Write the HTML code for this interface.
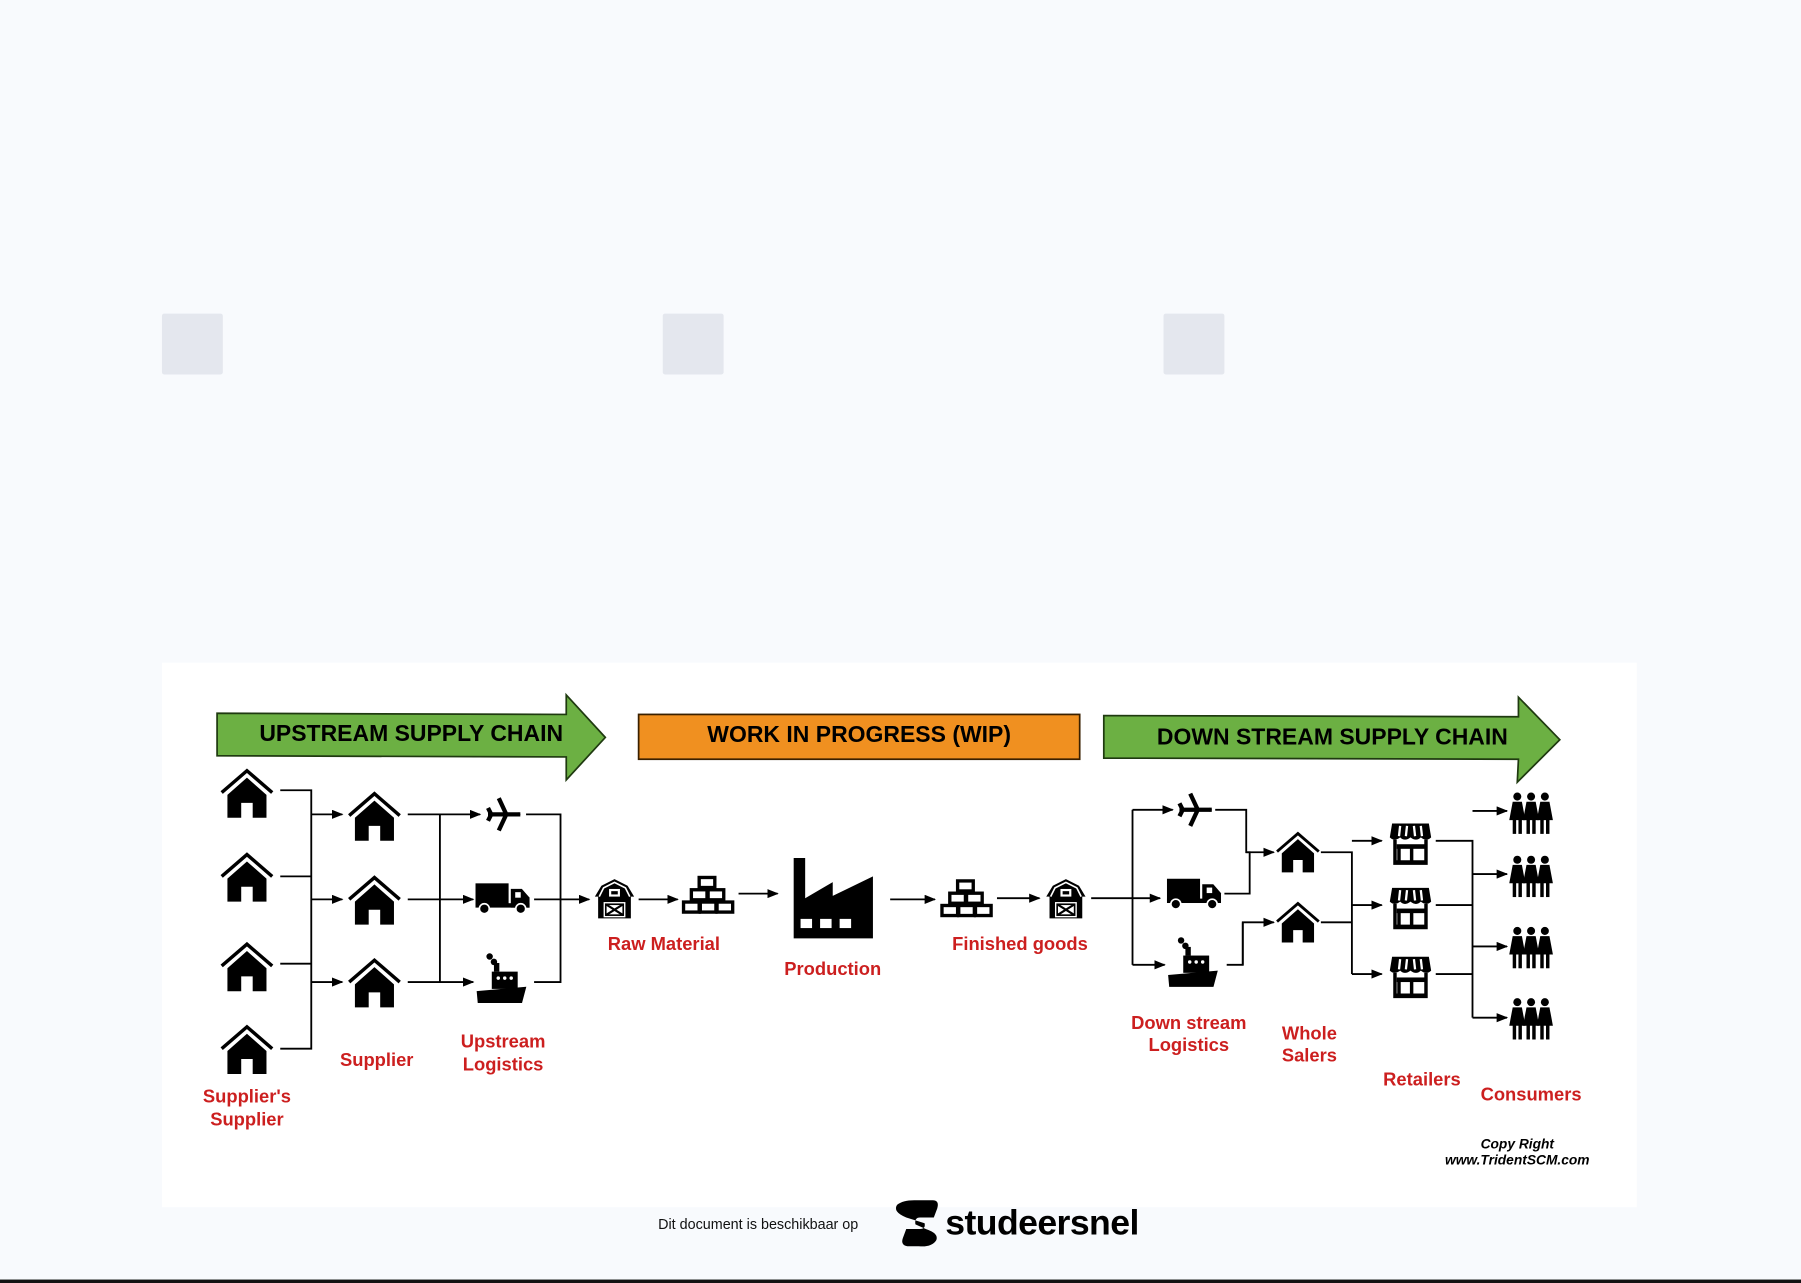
<!DOCTYPE html>
<html><head><meta charset="utf-8"><style>
html,body{margin:0;padding:0;background:#f8fafd;}
svg{display:block}
</style></head><body>
<svg width="1801" height="1283" viewBox="0 0 1568 1117" xmlns="http://www.w3.org/2000/svg" font-family="Liberation Sans, Arial, sans-serif">
<defs>
<marker id="ah" markerWidth="10" markerHeight="8" refX="9" refY="4" orient="auto" markerUnits="userSpaceOnUse"><path d="M0,0 L10,4 L0,8 z" fill="#000"/></marker>
<symbol id="house" viewBox="-24 -24 48 46" overflow="visible">
<polyline points="-22,-3 0,-22 22,-3" fill="none" stroke="#000" stroke-width="3"/>
<path d="M-17,-1 L0,-16 L17,-1 L17,19 L5,19 L5,6 L-5,6 L-5,19 L-17,19 z" fill="#000"/>
</symbol>
<symbol id="truck" viewBox="0 0 50 28" overflow="visible">
<rect x="0" y="0" width="30" height="20" fill="#000"/>
<path d="M32,5 L42,5 L49,13 L49,22 L32,22 z" fill="#000"/>
<rect x="36" y="8" width="5" height="5" fill="#fff"/>
<rect x="0" y="18" width="49" height="4" fill="#000"/>
<circle cx="8" cy="23" r="4.5" fill="#000" stroke="#fff" stroke-width="1.5"/>
<circle cx="41" cy="23" r="4.5" fill="#000" stroke="#fff" stroke-width="1.5"/>
</symbol>
<symbol id="ship" viewBox="0 0 50 50" overflow="visible">
<circle cx="12" cy="4" r="3" fill="#000"/><circle cx="16" cy="9" r="3" fill="#000"/>
<rect x="16" y="10" width="5" height="8" fill="#000"/>
<rect x="14" y="18" width="24" height="16" fill="#000"/>
<circle cx="20" cy="24" r="1.6" fill="#fff"/><circle cx="26" cy="24" r="1.6" fill="#fff"/><circle cx="32" cy="24" r="1.6" fill="#fff"/>
<path d="M0,36 L46,32 L42,47 L1,47 z" fill="#000"/>
</symbol>
<symbol id="barn" viewBox="-20 -18 40 36" overflow="visible">
<path d="M-18,-2 L-12,-12 L0,-18 L12,-12 L18,-2 L15,-2 L15,18 L-15,18 L-15,-2 z" fill="#000"/>
<path d="M-14,-2 L-10,-10 L0,-15 L10,-10 L14,-2" fill="none" stroke="#fff" stroke-width="1.5"/>
<rect x="-5" y="-9" width="10" height="7" fill="#fff"/><rect x="-3" y="-7" width="6" height="3" fill="#000"/>
<rect x="-10" y="3" width="20" height="14" fill="#fff"/>
<path d="M-8,5 L8,15 M8,5 L-8,15" stroke="#000" stroke-width="2"/>
<rect x="-8" y="5" width="16" height="10" fill="none" stroke="#000" stroke-width="1.5"/>
</symbol>
<symbol id="bricks" viewBox="0 0 48 36" overflow="visible">
<g fill="#fff" stroke="#000" stroke-width="3">
<rect x="16" y="2" width="14" height="9"/>
<rect x="9" y="13" width="14" height="9"/><rect x="24" y="13" width="14" height="9"/>
<rect x="2" y="24" width="14" height="9"/><rect x="17" y="24" width="14" height="9"/><rect x="32" y="24" width="14" height="9"/>
</g></symbol>
<symbol id="shop" viewBox="0 0 36 38" overflow="visible">
<path d="M2,2 L34,2 L36,14 Q32,18 27,14 Q23,18 18,14 Q13,18 9,14 Q4,18 0,14 z" fill="#000"/>
<path d="M9,4 L8,13 M15,4 L14,13 M21,4 L22,13 M27,4 L28,13" stroke="#fff" stroke-width="2"/>
<path d="M3,16 L6,16 L6,38 L3,38 z M30,16 L33,16 L33,38 L30,38 z M3,34 L33,34 L33,38 L3,38 z" fill="#000"/>
<rect x="8" y="22" width="11" height="14" fill="none" stroke="#000" stroke-width="3"/>
<rect x="6" y="20" width="26" height="4" fill="#000"/>
</symbol>
<symbol id="person" viewBox="0 0 14 36" overflow="visible">
<circle cx="7" cy="3.5" r="3.5" fill="#000"/>
<path d="M3,8 L11,8 L14,24 L0,24 z" fill="#000"/>
<rect x="3" y="23" width="3" height="13" fill="#000"/><rect x="8" y="23" width="3" height="13" fill="#000"/>
</symbol>
<symbol id="people" viewBox="0 0 38 36" overflow="visible">
<use href="#person" x="0" y="0" width="14" height="36"/>
<use href="#person" x="12" y="0" width="14" height="36"/>
<use href="#person" x="24" y="0" width="14" height="36"/>
</symbol>
<symbol id="plane" viewBox="-18 -16 36 32" overflow="visible">
<path d="M-14,0 L16,0 M-4,-15 L3,0 L-4,15 M-14,-6 L-11,0 L-14,6" stroke="#000" stroke-width="4" fill="none" stroke-linejoin="round"/>
<path d="M14,-2 Q18,0 14,2 z" fill="#000"/>
</symbol>
</defs>

<rect width="1568" height="1117" fill="#f8fafd"/>
<rect x="141" y="273" width="53" height="53" rx="2" fill="#e4e7ee"/>
<rect x="577" y="273" width="53" height="53" rx="2" fill="#e4e7ee"/>
<rect x="1013" y="273" width="53" height="53" rx="2" fill="#e4e7ee"/>

<rect x="141" y="577" width="1284" height="474" fill="#fff"/>

<!-- banners -->
<path d="M189,621 L493,622 L493,605 L527,642 L493,679 L493,659 L189,658 z" fill="#6cb043" stroke="#1f3a10" stroke-width="1.5"/>
<text x="358" y="645" font-size="20" font-weight="bold" text-anchor="middle">UPSTREAM SUPPLY CHAIN</text>
<rect x="556" y="622" width="384" height="39" fill="#f09020" stroke="#3a2000" stroke-width="1.5"/>
<text x="748" y="646" font-size="20" font-weight="bold" text-anchor="middle">WORK IN PROGRESS (WIP)</text>
<path d="M961,623 L1322,624 L1322,607 L1358,644 L1321,681 L1322,661 L961,660 z" fill="#6cb043" stroke="#1f3a10" stroke-width="1.5"/>
<text x="1160" y="648" font-size="20" font-weight="bold" text-anchor="middle">DOWN STREAM SUPPLY CHAIN</text>

<g stroke="#000" stroke-width="1.6" fill="none">
<!-- upstream -->
<path d="M244,688 H271 V913 H244 M244,763 H271 M244,839 H271"/>
<path d="M271,709 H298" marker-end="url(#ah)"/>
<path d="M271,783 H298" marker-end="url(#ah)"/>
<path d="M271,855 H298" marker-end="url(#ah)"/>
<path d="M355,709 H383 V855 H355 M355,783 H383"/>
<path d="M383,709 H418" marker-end="url(#ah)"/>
<path d="M383,783 H412" marker-end="url(#ah)"/>
<path d="M383,855 H412" marker-end="url(#ah)"/>
<path d="M458,709 H488 V855 H465"/>
<path d="M465,783 H513" marker-end="url(#ah)"/>
<path d="M556,783 H590" marker-end="url(#ah)"/>
<path d="M643,778 H677" marker-end="url(#ah)"/>
<path d="M775,783 H814" marker-end="url(#ah)"/>
<path d="M868,782 H905" marker-end="url(#ah)"/>
<!-- downstream -->
<path d="M950,782 H1010" marker-end="url(#ah)"/>
<path d="M986,705 V840"/>
<path d="M986,705 H1021" marker-end="url(#ah)"/>
<path d="M986,840 H1014" marker-end="url(#ah)"/>
<path d="M1058,705 H1085 V742 H1088 V778 H1066 M1082,840 V803"/>
<path d="M1085,742 H1109" marker-end="url(#ah)"/>
<path d="M1068,840 H1082 V803 H1109" marker-end="url(#ah)"/>
<path d="M1150,742 H1177 V848 M1150,803 H1177"/>
<path d="M1177,732 H1203" marker-end="url(#ah)"/>
<path d="M1177,788 H1203" marker-end="url(#ah)"/>
<path d="M1177,848 H1203" marker-end="url(#ah)"/>
<path d="M1250,732 H1282 V886 M1250,788 H1282 M1250,848 H1282"/>
<path d="M1282,706 H1312" marker-end="url(#ah)"/>
<path d="M1282,761 H1312" marker-end="url(#ah)"/>
<path d="M1282,824 H1312" marker-end="url(#ah)"/>
<path d="M1282,886 H1312" marker-end="url(#ah)"/>
</g>

<!-- icons -->
<use href="#house" x="191" y="669" width="48" height="46"/>
<use href="#house" x="191" y="742" width="48" height="46"/>
<use href="#house" x="191" y="820" width="48" height="46"/>
<use href="#house" x="191" y="892" width="48" height="46"/>
<use href="#house" x="302" y="689" width="48" height="46"/>
<use href="#house" x="302" y="762" width="48" height="46"/>
<use href="#house" x="302" y="834" width="48" height="46"/>
<use href="#plane" x="421" y="694" width="34" height="30"/>
<use href="#truck" x="414" y="769" width="48" height="27"/>
<use href="#ship" x="415" y="829" width="47" height="47"/>
<use href="#barn" x="516" y="765" width="38" height="35"/>
<use href="#bricks" x="593" y="762" width="47" height="35"/>
<path d="M691,747 H701 V782 L725,768 V780 L760,763 V817 H691 z" fill="#000"/>
<rect x="697" y="800" width="10" height="8" fill="#fff"/><rect x="714" y="800" width="10" height="8" fill="#fff"/><rect x="731" y="800" width="10" height="8" fill="#fff"/>
<use href="#bricks" x="818" y="765" width="47" height="35"/>
<use href="#barn" x="909" y="765" width="38" height="35"/>
<use href="#plane" x="1023" y="690" width="34" height="30"/>
<use href="#truck" x="1016" y="765" width="48" height="27"/>
<use href="#ship" x="1017" y="815" width="47" height="47"/>
<use href="#house" x="1110" y="724" width="40" height="38"/>
<use href="#house" x="1110" y="785" width="40" height="38"/>
<use href="#shop" x="1210" y="715" width="36" height="38"/>
<use href="#shop" x="1210" y="771" width="36" height="38"/>
<use href="#shop" x="1210" y="831" width="36" height="38"/>
<use href="#people" x="1314" y="690" width="38" height="36"/>
<use href="#people" x="1314" y="745" width="38" height="36"/>
<use href="#people" x="1314" y="807" width="38" height="36"/>
<use href="#people" x="1314" y="869" width="38" height="36"/>

<!-- labels -->
<g fill="#cc1f1f" font-size="16" font-weight="bold" text-anchor="middle">
<text x="215" y="960">Supplier's</text><text x="215" y="980">Supplier</text>
<text x="328" y="928">Supplier</text>
<text x="438" y="912">Upstream</text><text x="438" y="932">Logistics</text>
<text x="578" y="827">Raw Material</text>
<text x="725" y="849">Production</text>
<text x="888" y="827">Finished goods</text>
<text x="1035" y="896">Down stream</text><text x="1035" y="915">Logistics</text>
<text x="1140" y="905">Whole</text><text x="1140" y="924">Salers</text>
<text x="1238" y="945">Retailers</text>
<text x="1333" y="958">Consumers</text>
</g>
<g font-size="12" font-weight="bold" font-style="italic" text-anchor="middle">
<text x="1321" y="1000">Copy Right</text><text x="1321" y="1014">www.TridentSCM.com</text>
</g>

<!-- footer -->
<text x="573" y="1070" font-size="12.5" fill="#111">Dit document is beschikbaar op</text>
<path d="M796,1045 H812 Q818,1045 816,1052 L813,1060 H801 Q796,1060 797,1066 L806,1070 Q818,1074 815,1080 Q811,1086 800,1085 H790 Q784,1084 786,1078 L789,1070 H801 Q806,1070 805,1065 L789,1060 Q777,1055 781,1049 Q786,1045 796,1045 z" fill="#000"/>
<text x="823" y="1075" font-size="31" font-weight="bold" fill="#000" letter-spacing="-0.5">studeersnel</text>
<rect x="0" y="1114" width="1568" height="3" fill="#111"/>
</svg>
</body></html>
